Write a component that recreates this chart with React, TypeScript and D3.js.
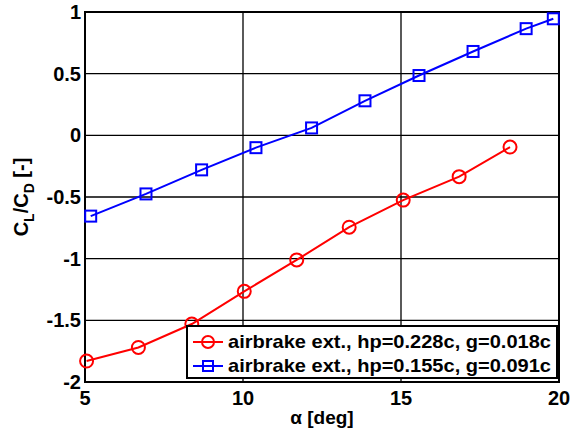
import React, { useEffect, useRef } from 'react';
import * as d3 from 'd3';

const redAlpha = [5.05, 6.69, 8.38, 10.04, 11.7, 13.36, 15.07, 16.84, 18.45];
const redRatio = [-1.83, -1.72, -1.53, -1.265, -1.01, -0.745, -0.525, -0.335, -0.095];
const blueAlpha = [5.18, 6.93, 8.69, 10.41, 12.17, 13.86, 15.57, 17.28, 18.96, 19.82];
const blueRatio = [-0.655, -0.475, -0.28, -0.1, 0.06, 0.28, 0.485, 0.68, 0.865, 0.945];
const xTicks = [5, 10, 15, 20];
const yTicks = [-2, -1.5, -1, -0.5, 0, 0.5, 1];
const legendLabels = ['airbrake ext., hp=0.228c, g=0.018c', 'airbrake ext., hp=0.155c, g=0.091c'];

const App = () => {
    const svgRef = useRef<SVGSVGElement>(null);

    useEffect(() => {
        const width = 583;
        const height = 436;
        const m = { left: 85, right: 24, top: 12, bottom: 54 };
        const font = '"Liberation Sans", Arial, sans-serif';

        const svg = d3.select(svgRef.current)
            .attr('width', width)
            .attr('height', height)
            .style('position', 'absolute')
            .style('left', 0)
            .style('top', 0);
        svg.selectAll('*').remove();

        const x = d3.scaleLinear().domain([5, 20]).range([m.left, width - m.right]);
        const y = d3.scaleLinear().domain([-2, 1]).range([height - m.bottom, m.top]);

        // grid
        const g = svg.append('g');
        g.selectAll('.vgrid').data(xTicks).enter().append('line')
            .attr('x1', d => x(d)).attr('x2', d => x(d))
            .attr('y1', y(-2)).attr('y2', y(1))
            .attr('stroke', '#000').attr('stroke-width', 1.3);
        g.selectAll('.hgrid').data(yTicks).enter().append('line')
            .attr('x1', x(5)).attr('x2', x(20))
            .attr('y1', d => y(d)).attr('y2', d => y(d))
            .attr('stroke', '#000').attr('stroke-width', 1.3);
        g.append('rect')
            .attr('x', x(5)).attr('y', y(1))
            .attr('width', x(20) - x(5)).attr('height', y(-2) - y(1))
            .attr('fill', 'none').attr('stroke', '#000').attr('stroke-width', 2);

        // tick labels
        g.selectAll('.xl').data(xTicks).enter().append('text')
            .attr('x', d => x(d)).attr('y', y(-2) + 23)
            .attr('text-anchor', 'middle')
            .style('font-family', font).style('font-weight', 'bold').style('font-size', '20px')
            .text(d => d);
        g.selectAll('.yl').data(yTicks).enter().append('text')
            .attr('x', x(5) - 4).attr('y', d => y(d) + 7)
            .attr('text-anchor', 'end')
            .style('font-family', font).style('font-weight', 'bold').style('font-size', '20px')
            .text(d => d);

        // axis labels
        svg.append('text')
            .attr('x', (x(5) + x(20)) / 2).attr('y', 424)
            .attr('text-anchor', 'middle')
            .style('font-family', font).style('font-weight', 'bold').style('font-size', '19px')
            .text('α [deg]');

        const yl = svg.append('text')
            .attr('transform', 'translate(28,197) rotate(-90)')
            .attr('text-anchor', 'middle')
            .style('font-family', font).style('font-weight', 'bold').style('font-size', '20px');
        yl.append('tspan').text('C');
        yl.append('tspan').attr('dy', 6).style('font-size', '14px').text('L');
        yl.append('tspan').attr('dy', -6).text('/C');
        yl.append('tspan').attr('dy', 6).style('font-size', '14px').text('D');
        yl.append('tspan').attr('dy', -6).text(' [-]');

        const line = d3.line<[number, number]>().x(d => x(d[0])).y(d => y(d[1]));

        const red = redAlpha.map((a, i) => [a, redRatio[i]] as [number, number]);
        const blue = blueAlpha.map((a, i) => [a, blueRatio[i]] as [number, number]);

        svg.append('path').attr('d', line(red)!)
            .attr('fill', 'none').attr('stroke', '#ff0000').attr('stroke-width', 2);
        svg.selectAll('.rc').data(red).enter().append('circle')
            .attr('cx', d => x(d[0])).attr('cy', d => y(d[1])).attr('r', 6.5)
            .attr('fill', 'none').attr('stroke', '#ff0000').attr('stroke-width', 2);

        svg.append('path').attr('d', line(blue)!)
            .attr('fill', 'none').attr('stroke', '#0000ff').attr('stroke-width', 2);
        svg.selectAll('.bs').data(blue).enter().append('rect')
            .attr('x', d => x(d[0]) - 5.5).attr('y', d => y(d[1]) - 5.5)
            .attr('width', 11).attr('height', 11)
            .attr('fill', 'none').attr('stroke', '#0000ff').attr('stroke-width', 2);

        // legend
        const lg = svg.append('g');
        lg.append('rect')
            .attr('x', 187).attr('y', 326).attr('width', 370).attr('height', 52)
            .attr('fill', '#fff').attr('stroke', '#000').attr('stroke-width', 2);
        const colors = ['#ff0000', '#0000ff'];
        legendLabels.forEach((label, i) => {
            const cy = 342 + i * 24;
            lg.append('line')
                .attr('x1', 193).attr('x2', 223).attr('y1', cy).attr('y2', cy)
                .attr('stroke', colors[i]).attr('stroke-width', 2);
            if (i === 0) {
                lg.append('circle').attr('cx', 208).attr('cy', cy).attr('r', 6)
                    .attr('fill', 'none').attr('stroke', colors[i]).attr('stroke-width', 2);
            } else {
                lg.append('rect').attr('x', 203).attr('y', cy - 5).attr('width', 10).attr('height', 10)
                    .attr('fill', 'none').attr('stroke', colors[i]).attr('stroke-width', 2);
            }
            lg.append('text')
                .attr('x', 228).attr('y', cy + 6)
                .attr('textLength', 323).attr('lengthAdjust', 'spacingAndGlyphs')
                .style('font-family', font).style('font-weight', 'bold').style('font-size', '18.5px')
                .text(label);
        });
    }, []);

    return <svg ref={svgRef}></svg>;
};

export default App;
